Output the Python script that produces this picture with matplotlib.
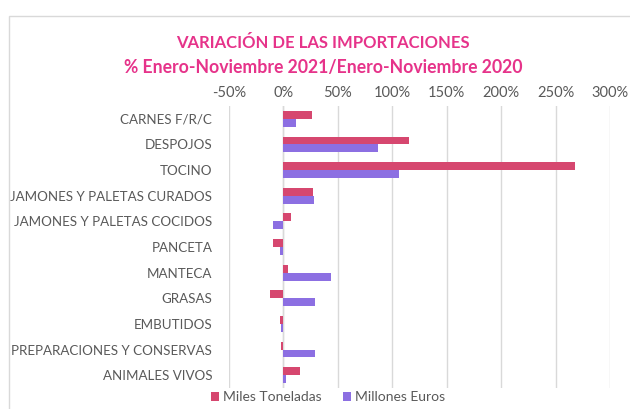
import matplotlib
matplotlib.use("Agg")
import matplotlib.pyplot as plt
from matplotlib.patches import Rectangle
import numpy as np

categories = ["CARNES F/R/C", "DESPOJOS", "TOCINO", "JAMONES Y PALETAS CURADOS",
              "JAMONES Y PALETAS COCIDOS", "PANCETA", "MANTECA", "GRASAS",
              "EMBUTIDOS", "PREPARACIONES Y CONSERVAS", "ANIMALES VIVOS"]
miles_toneladas = [26, 115, 268, 27, 7, -9.5, 4, -12, -3, -1.8, 15]
millones_euros = [12, 87, 106, 28, -9.4, -3.6, 44, 29, -2.4, 29, 2.4]
xticks = [-50, 0, 50, 100, 150, 200, 250, 300]
xtick_labels = ["-50%", "0%", "50%", "100%", "150%", "200%", "250%", "300%"]

RED = "#D6476F"
PURPLE = "#8C6FE2"
PINK = "#E6338A"
GRAY = "#595959"
FONT = ["Lato", "DejaVu Sans"]

plt.rcParams['font.family'] = FONT

fig = plt.figure(figsize=(6.3, 4.09), dpi=100)
fig.patch.set_facecolor("white")

# outer border
fig.patches.append(Rectangle((9/630, -0.05), 1.0, 1 - 16/409 + 0.05, transform=fig.transFigure,
                             fill=False, edgecolor="#D9D9D9", linewidth=1.0))

ax = fig.add_axes([229/630, 1 - 388/409, (610 - 229)/630, (388 - 106)/409])

y = np.arange(len(categories))
h = 0.31
ax.barh(y - h/2, miles_toneladas, height=h, color=RED, label="Miles Toneladas", zorder=3)
ax.barh(y + h/2, millones_euros, height=h, color=PURPLE, label="Millones Euros", zorder=3)

ax.set_xlim(-50, 300)
ax.set_ylim(len(categories) - 0.5, -0.5)
ax.set_xticks(xticks)
ax.set_xticklabels(xtick_labels)
ax.xaxis.tick_top()
ax.tick_params(axis="x", length=0, pad=4, labelsize=10.5, labelcolor=GRAY)
ax.set_yticks(y)
ax.set_yticklabels(categories)
ax.tick_params(axis="y", length=0, pad=12, labelsize=9.6, labelcolor=GRAY)
ax.grid(axis="x", color="#D9D9D9", linewidth=1.0, zorder=0)
ax.axvline(0, color="#D9D9D9", linewidth=1.0, zorder=1)
for s in ax.spines.values():
    s.set_visible(False)

fig.text(323/630, 1 - 43/409, "VARIACIÓN DE LAS IMPORTACIONES", ha="center", va="center",
         color=PINK, fontsize=12, fontweight="bold")
fig.text(323/630, 1 - 67/409, "% Enero-Noviembre 2021/Enero-Noviembre 2020", ha="center", va="center",
         color=PINK, fontsize=12.7, fontweight="bold")

fig.legend(loc="center", bbox_to_anchor=(328/630, 1 - 397/409), ncol=2, frameon=False,
           fontsize=10, labelcolor=GRAY, handlelength=0.6, handleheight=0.6,
           handletextpad=0.3, columnspacing=1.5)

fig.savefig("out.png", dpi=100, facecolor="white")
